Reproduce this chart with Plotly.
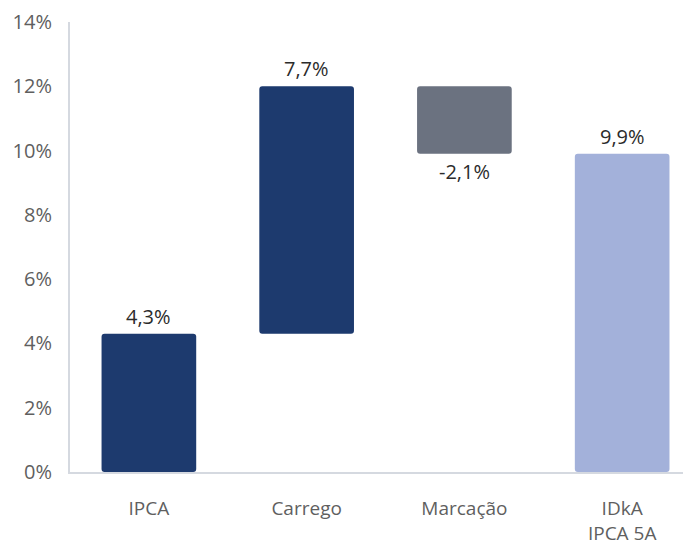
import plotly.graph_objects as go

categories = ["IPCA", "Carrego", "Marcação", "IDkA<br>IPCA 5A"]
deltas = [4.3, 7.7, -2.1, 9.9]
is_total = [False, False, False, True]
labels = ["4,3%", "7,7%", "-2,1%", "9,9%"]
colors = ["#1d3a6e", "#1d3a6e", "#6b7280", "#a3b1da"]
y_ticks = [0, 2, 4, 6, 8, 10, 12, 14]
y_tick_text = ["0%", "2%", "4%", "6%", "8%", "10%", "12%", "14%"]

FONT = "Open Sans, Lato, sans-serif"

# compute floating bar positions (waterfall)
bases, heights, ends = [], [], []
running = 0.0
for d, tot in zip(deltas, is_total):
    if tot:
        bases.append(0.0)
        heights.append(d)
        ends.append((d, True))
        running = d
    else:
        start = running
        end = running + d
        bases.append(min(start, end))
        heights.append(abs(d))
        ends.append((end, d >= 0))
        running = end

fig = go.Figure()
fig.add_trace(go.Bar(
    x=categories, y=heights, base=bases,
    marker=dict(color=colors, line=dict(width=0)),
    width=0.6, hoverinfo="skip",
))

for cat, lab, (yv, up) in zip(categories, labels, ends):
    fig.add_annotation(
        x=cat, y=yv, text=lab, showarrow=False,
        yanchor="bottom" if up else "top",
        yshift=2 if up else -2,
        font=dict(family=FONT, size=20, color="#2b2b2b"),
    )

# page body has an 8px default margin, so shift the figure accordingly
fig.update_layout(
    width=683, height=532,
    margin=dict(l=62, r=1, t=14, b=68),
    paper_bgcolor="white", plot_bgcolor="white",
    showlegend=False,
    barcornerradius=3,
    font=dict(family=FONT),
)
fig.update_xaxes(
    range=[-0.5, 3.43],
    showline=True, linecolor="#d5d9e0", linewidth=2,
    showgrid=False, ticks="",
    tickfont=dict(size=19, color="#5f5f5f"),
    ticklabelstandoff=18,
    automargin=False,
)
fig.update_yaxes(
    range=[0, 14],
    tickvals=y_ticks, ticktext=y_tick_text,
    showline=True, linecolor="#d5d9e0", linewidth=2,
    showgrid=False, zeroline=False, ticks="",
    tickfont=dict(size=20, color="#5f5f5f"),
    ticklabelstandoff=12,
    automargin=False,
)

fig.write_html("out.html")
